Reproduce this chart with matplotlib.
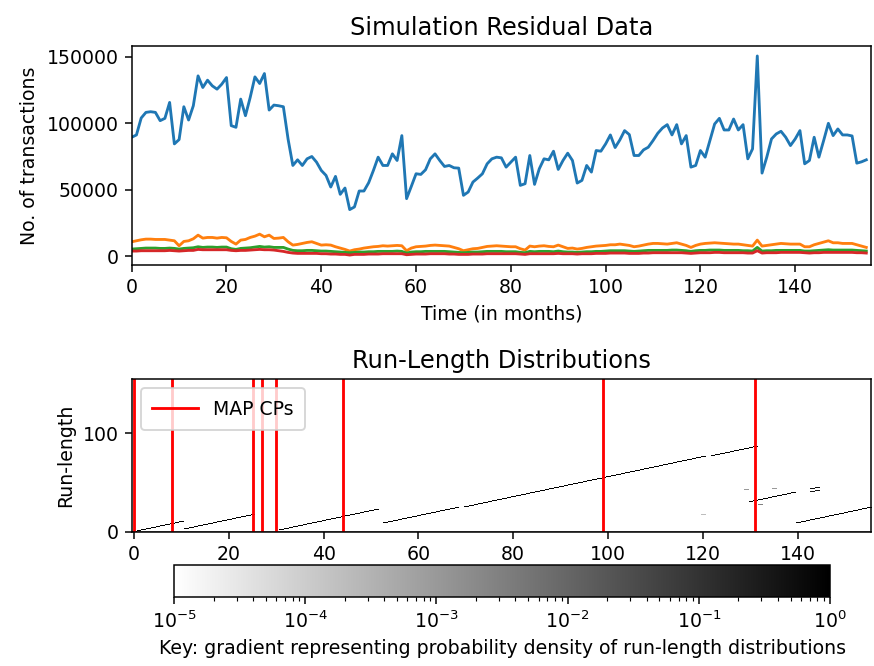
import numpy as np
import matplotlib
matplotlib.use("Agg")
import matplotlib.pyplot as plt
from matplotlib.colors import LogNorm

# residual series (monthly)
blue = [89500, 91250, 104000, 108250, 108750, 108250, 102000, 103750, 115750, 84500,
        87750, 112500, 102500, 113250, 135750, 127000, 132500, 128250, 125750, 129500,
        134500, 98250, 97000, 118250, 105750, 119500, 135000, 130000, 137500, 110000,
        113750, 113250, 112500, 88000, 68250, 72500, 68250, 73250, 75000, 70750,
        64500, 60750, 52000, 60000, 46500, 51250, 35000, 37000, 49000, 49000,
        55250, 64500, 74500, 68250, 68250, 77000, 72000, 90750, 43250, 52500,
        62000, 61500, 65000, 73250, 77000, 72000, 67500, 68250, 66500, 66250,
        45750, 48250, 55750, 58750, 62000, 69500, 73250, 74500, 74000, 67000,
        70750, 74500, 53250, 54500, 75750, 54000, 65750, 73250, 72500, 79000,
        65250, 72000, 77500, 72000, 55000, 57000, 68250, 63250, 79500, 79000,
        84500, 91250, 81750, 87500, 94500, 91500, 75750, 75750, 80000, 82000,
        87000, 92500, 96500, 99000, 91250, 99000, 84500, 90750, 67000, 68250,
        79500, 74500, 87000, 99500, 103750, 95000, 95000, 103250, 95000, 99000,
        73250, 80750, 150750, 62500, 74500, 88250, 92000, 94000, 89500, 83250,
        88250, 94500, 69500, 72000, 89500, 74500, 87000, 100000, 90750, 95750,
        91250, 91250, 90500, 70000, 71000, 72500]

orange = [10750, 11500, 12250, 12750, 12750, 12500, 12500, 12500, 12000, 11500,
          7750, 11000, 11500, 13000, 15750, 13500, 14000, 14000, 13500, 14000,
          13750, 11000, 9000, 12000, 12500, 14000, 15000, 16500, 14500, 15750,
          13250, 13500, 14000, 10750, 8250, 8750, 9500, 10250, 10750, 9500,
          8250, 8500, 8250, 7000, 6000, 5000, 3750, 4750, 5250, 6000,
          6500, 7000, 7250, 7750, 7500, 7750, 8000, 7750, 4000, 6000,
          7000, 7250, 7500, 8000, 8250, 8000, 7750, 7500, 6500, 5500,
          4000, 4750, 5500, 5750, 6500, 7250, 7500, 7750, 7500, 7250,
          7000, 7000, 5500, 4500, 7500, 7000, 7500, 7750, 7250, 7000,
          8250, 7000, 5750, 6000, 5250, 5750, 6500, 7000, 7500, 7750,
          8000, 8500, 8500, 9000, 8500, 8000, 7000, 7500, 8250, 9000,
          9500, 9500, 9250, 9000, 9500, 10000, 9000, 8000, 6500, 8000,
          9000, 9500, 9750, 10000, 9750, 9500, 9250, 9000, 9000, 8500,
          8000, 7500, 12000, 7500, 8000, 8500, 9000, 9500, 9250, 9000,
          9000, 9000, 7000, 7000, 8500, 9500, 10500, 11500, 10000, 10000,
          9500, 9500, 9500, 8500, 7500, 6500]

green = [5250, 5500, 5750, 6000, 6000, 6000, 5750, 5750, 6000, 5750,
         5250, 5750, 6000, 6250, 7000, 6500, 6750, 6750, 6500, 6750,
         6750, 5500, 5000, 5750, 6000, 6250, 6750, 7250, 6750, 7000,
         6500, 6500, 6500, 5250, 4250, 4000, 4000, 4250, 4250, 4000,
         3750, 3750, 3500, 3250, 3000, 2750, 2500, 2750, 3000, 3000,
         3250, 3250, 3500, 3500, 3500, 3500, 3750, 3500, 2250, 3000,
         3250, 3250, 3500, 3500, 3500, 3500, 3500, 3250, 3000, 2750,
         2500, 2750, 3000, 3000, 3250, 3500, 3500, 3500, 3500, 3250,
         3250, 3250, 2750, 2500, 3500, 3250, 3500, 3500, 3500, 3250,
         3750, 3250, 3000, 3000, 2750, 3000, 3250, 3250, 3500, 3500,
         3750, 4000, 4000, 4000, 4000, 3750, 3500, 3750, 4000, 4250,
         4250, 4250, 4250, 4250, 4500, 4500, 4250, 4000, 3500, 4000,
         4250, 4250, 4500, 4500, 4500, 4250, 4250, 4250, 4250, 4000,
         4000, 3750, 6500, 3750, 4000, 4000, 4250, 4250, 4250, 4250,
         4250, 4250, 3750, 3750, 4000, 4250, 4500, 4750, 4500, 4500,
         4500, 4500, 4500, 4250, 4000, 3750]

red = [3750, 3750, 4000, 4000, 4000, 4000, 4000, 4000, 4250, 4000,
       3750, 4000, 4250, 4250, 5000, 4750, 4750, 4750, 4750, 4750,
       4750, 4250, 4000, 4250, 4250, 4500, 4750, 5000, 4750, 4750,
       4500, 4000, 3500, 2750, 2250, 2000, 2000, 2000, 2000, 2000,
       1750, 1750, 1500, 1500, 1250, 1250, 750, 1250, 1250, 1250,
       1500, 1500, 1500, 1750, 1750, 1750, 1750, 1750, 1000, 1250,
       1500, 1500, 1500, 1750, 1750, 1750, 1750, 1500, 1500, 1250,
       1250, 1250, 1500, 1500, 1500, 1750, 1750, 1750, 1750, 1750,
       1750, 1750, 1500, 1250, 1750, 1750, 1750, 1750, 1750, 1750,
       2000, 1750, 1750, 1750, 1500, 1750, 1750, 1750, 2000, 2000,
       2000, 2250, 2250, 2250, 2250, 2000, 2000, 2000, 2250, 2250,
       2500, 2500, 2500, 2500, 2500, 2500, 2500, 2250, 2000, 2250,
       2500, 2500, 2500, 2750, 2750, 2500, 2500, 2500, 2500, 2500,
       2250, 2250, 4000, 2250, 2500, 2500, 2500, 2750, 2750, 2750,
       2750, 2750, 2500, 2250, 2500, 2500, 2750, 2750, 2750, 2750,
       2750, 2750, 2750, 2500, 2500, 2250]

# MAP changepoints
map_cps = [0, 8, 25, 27, 30, 44, 99, 131]

# visible run-length tracks: run started at seg_cp, shown from seg_from to seg_to
seg_cp = [0, 8, 29, 44, 99, 131]
seg_from = [0, 11, 31, 53, 130, 140]
seg_to = [10, 25, 51, 131, 139, 155]
seg_prob = [1.0, 1.0, 0.9, 1.0, 0.9, 1.0]

# a few isolated cells (time, run-length, probability)
extra_t = [143, 144, 143, 144, 129, 135, 132, 120]
extra_r = [44, 45, 41, 42, 43, 44, 28, 17]
extra_p = [0.5, 0.5, 0.3, 0.3, 1e-3, 1e-3, 3e-3, 2e-4]
r0_prob = 4e-3

T = len(blue)
R = np.zeros((T, T))
R[0, :] = r0_prob
for c, a, b, p in zip(seg_cp, seg_from, seg_to, seg_prob):
    for t in range(a, b + 1):
        R[t - c, t] = p
for t, r, p in zip(extra_t, extra_r, extra_p):
    R[r, t] = p

dpi = 136
fig = plt.figure(figsize=(874 / dpi, 666 / dpi), dpi=dpi)

ax1 = fig.add_axes([0.1507, 0.6021, 0.8459, 0.3288])
ax1.plot(blue)
ax1.plot(orange)
ax1.plot(green)
ax1.plot(red)
ax1.set_xlim(0, 156)
ax1.set_title("Simulation Residual Data", fontsize=12.8)
ax1.set_xlabel("Time (in months)")
ax1.set_ylabel("No. of transactions")

ax2 = fig.add_axes([0.1507, 0.2012, 0.8459, 0.2297])
im = ax2.imshow(R, origin="lower", aspect="auto", cmap="gray_r",
                norm=LogNorm(vmin=1e-5, vmax=1), interpolation="nearest")
for i, cp in enumerate(map_cps):
    ax2.axvline(cp, color="red", label="MAP CPs" if i == 0 else None)
ax2.set_yticks([0, 100])
ax2.set_title("Run-Length Distributions", fontsize=12.8)
ax2.set_ylabel("Run-length")
ax2.legend(loc="upper left", borderpad=0.6, handlelength=2.4)

cax = fig.add_axes([0.1991, 0.1036, 0.7506, 0.048])
cb = fig.colorbar(im, cax=cax, orientation="horizontal")
cb.set_label("Key: gradient representing probability density of run-length distributions")

fig.savefig("out.png", dpi=dpi)
